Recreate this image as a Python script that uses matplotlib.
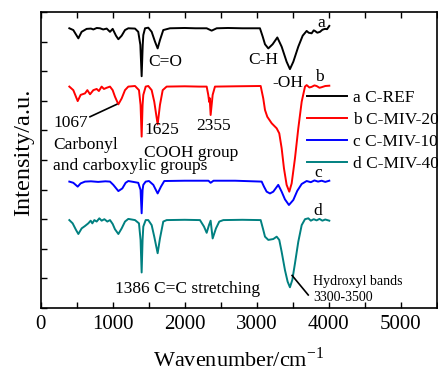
import matplotlib
matplotlib.use("Agg")
import matplotlib.pyplot as plt
from matplotlib.ticker import MultipleLocator

plt.rcParams['font.family'] = ['Liberation Serif', 'DejaVu Serif']
plt.rcParams['mathtext.fontset'] = 'custom'
plt.rcParams['mathtext.rm'] = 'Liberation Serif'

# ---- data ----
wn_a = [400, 455, 525, 570, 640, 700, 733, 780, 825, 870, 918, 964, 1001, 1047, 1080, 1126, 1172, 1218,
        1311, 1356, 1385, 1403, 1418, 1426, 1450, 1495, 1542, 1588, 1625, 1657, 1703, 1796, 2000, 2150,
        2305, 2374, 2444, 2600, 2800, 3044, 3082, 3114, 3160, 3220, 3285, 3345, 3414, 3460, 3507, 3576,
        3637, 3692, 3720, 3761, 3790, 3807, 3840, 3877, 3910, 3946, 3975, 4006]
int_a = [9.45, 9.39, 9.11, 9.33, 9.43, 9.44, 9.41, 9.46, 9.45, 9.41, 9.44, 9.33, 9.43, 9.20, 9.08, 9.20, 9.39, 9.45,
         9.44, 9.33, 8.89, 7.83, 8.89, 9.22, 9.45, 9.47, 9.33, 9.00, 8.77, 9.05, 9.39, 9.45, 9.46, 9.45,
         9.45, 9.37, 9.45, 9.46, 9.45, 9.45, 9.17, 8.91, 8.77, 8.91, 9.14, 8.83, 8.32, 8.07, 8.32, 8.83,
         9.20, 9.36, 9.30, 9.28, 9.38, 9.36, 9.30, 9.33, 9.40, 9.43, 9.42, 9.53]

wn_b = [400, 455, 516, 557, 617, 650, 687, 733, 779, 810, 848, 880, 918, 964, 1001, 1033, 1080, 1126, 1172,
        1218, 1311, 1366, 1388, 1403, 1416, 1426, 1459, 1495, 1542, 1578, 1625, 1657, 1695, 1750, 2000,
        2200, 2305, 2327, 2340, 2347, 2360, 2388, 2420, 2700, 3054, 3090, 3114, 3146, 3207, 3276, 3312,
        3345, 3377, 3414, 3451, 3484, 3530, 3576, 3623, 3669, 3692, 3730, 3760, 3800, 3830, 3870, 3900,
        3950, 4006]
int_b = [7.48, 7.36, 6.99, 7.20, 7.25, 7.36, 7.22, 7.36, 7.40, 7.33, 7.48, 7.40, 7.44, 7.48, 7.36, 7.14, 6.88, 7.08, 7.36,
         7.48, 7.50, 7.36, 6.86, 5.79, 6.86, 7.20, 7.48, 7.50, 7.36, 6.97, 6.20, 6.86, 7.36, 7.48, 7.49,
         7.48, 7.48, 7.20, 6.96, 7.09, 6.52, 7.20, 7.48, 7.49, 7.50, 7.08, 6.69, 6.46, 6.24, 6.07, 5.90,
         5.40, 4.72, 4.16, 3.93, 4.21, 5.06, 6.07, 6.97, 7.48, 7.53, 7.45, 7.47, 7.52, 7.50, 7.44, 7.46,
         7.50, 7.51]

wn_c = [400, 455, 516, 557, 617, 700, 800, 900, 964, 1010, 1080, 1135, 1181, 1218, 1356, 1388, 1403, 1416,
        1426, 1459, 1505, 1565, 1625, 1671, 1717, 2000, 2330, 2360, 2400, 2700, 3068, 3100, 3137, 3183,
        3229, 3298, 3345, 3391, 3446, 3507, 3562, 3623, 3692, 3750, 3800, 3850, 3900, 3950, 4006]
int_c = [4.27, 4.23, 4.10, 4.21, 4.27, 4.28, 4.26, 4.28, 4.27, 4.16, 3.95, 4.04, 4.23, 4.29, 4.23, 3.99, 3.20, 3.99,
         4.16, 4.27, 4.29, 4.16, 3.87, 4.10, 4.29, 4.30, 4.30, 4.23, 4.30, 4.30, 4.27, 4.10, 3.93, 3.87,
         3.93, 4.16, 3.93, 3.67, 3.48, 3.65, 3.96, 4.19, 4.29, 4.25, 4.31, 4.27, 4.30, 4.26, 4.30]

wn_d = [400, 446, 492, 525, 571, 617, 663, 696, 719, 747, 779, 816, 848, 886, 927, 964, 1001, 1033, 1080,
        1126, 1172, 1218, 1311, 1366, 1388, 1403, 1416, 1426, 1459, 1495, 1542, 1578, 1625, 1657, 1703,
        1750, 2000, 2212, 2268, 2305, 2337, 2360, 2388, 2434, 2480, 2536, 2800, 3054, 3090, 3114, 3160,
        3229, 3276, 3312, 3345, 3391, 3428, 3460, 3493, 3530, 3576, 3623, 3669, 3715, 3750, 3790, 3830,
        3870, 3910, 3950, 4006]
int_d = [2.97, 2.86, 2.64, 2.50, 2.69, 2.77, 2.86, 2.95, 2.86, 2.97, 2.92, 3.03, 2.95, 3.00, 2.92, 2.97, 2.84, 2.66, 2.50,
         2.69, 2.92, 3.01, 2.97, 2.86, 2.30, 1.20, 2.30, 2.75, 2.97, 2.97, 2.80, 2.41, 1.85, 2.35, 2.92,
         2.97, 2.98, 2.97, 2.75, 2.54, 2.80, 2.95, 2.35, 2.69, 2.92, 2.97, 2.98, 2.97, 2.64, 2.41, 2.30,
         2.33, 2.41, 2.30, 1.90, 1.28, 0.89, 0.70, 0.95, 1.51, 2.24, 2.80, 3.00, 3.03, 2.95, 3.00, 2.96,
         3.01, 2.95, 2.99, 2.95]

series_labels = ['a C-REF', 'b C-MIV-20', 'c C-MIV-10', 'd C-MIV-40']
series_colors = ['black', '#ff0000', '#0000ff', '#008080']

x_ticks = [0, 1000, 2000, 3000, 4000, 5000]

# ---- figure ----
fig = plt.figure(figsize=(4.39, 3.70), dpi=100)
ax = fig.add_axes([40.5 / 439, 1 - 308 / 370, (437 - 40.5) / 439, (308 - 12) / 370])

lines = []
for wn, val, lab, col in zip([wn_a, wn_b, wn_c, wn_d], [int_a, int_b, int_c, int_d],
                             series_labels, series_colors):
    ln, = ax.plot(wn, val, color=col, lw=1.4, label=lab)
    lines.append(ln)

ax.set_xlim(0, 5500)
ax.set_ylim(0, 10)
ax.set_xticks(x_ticks)
ax.set_xticklabels([str(t) for t in x_ticks])
ax.xaxis.set_minor_locator(MultipleLocator(500))
ax.yaxis.set_major_locator(MultipleLocator(1))
ax.set_yticklabels([])
ax.tick_params(axis='x', which='both', direction='in', length=4, width=1.0, top=True,
               labelsize=15, pad=5)
ax.tick_params(axis='y', which='both', direction='in', length=4, width=1.0, right=False)
for sp in ax.spines.values():
    sp.set_linewidth(1.2)

fig.text(238.7 / 439, 1 - 359 / 370, 'Wavenumber/cm$^{\\mathregular{-1}}$', ha='center', va='center',
         fontsize=16)
fig.text(24 / 439, 1 - 152 / 370, 'Intensity/a.u.', rotation=90, ha='center', va='center', fontsize=17.5)

leg = ax.legend(handles=lines, loc='upper left', bbox_to_anchor=(0.672, 0.738), frameon=False,
                fontsize=12.5, handlelength=2.3, handletextpad=0.35, labelspacing=0.34,
                borderaxespad=0.0, borderpad=0.0)

fs = 12.5
ax.text(3900, 9.64, 'a', fontsize=fs, ha='center', va='center')
ax.text(3867, 7.79, 'b', fontsize=fs, ha='center', va='center')
ax.text(3853, 4.55, 'c', fontsize=fs, ha='center', va='center')
ax.text(3840, 3.28, 'd', fontsize=fs, ha='center', va='center')
ax.text(1734, 8.32, 'C=O', fontsize=fs, ha='center', va='center')
ax.text(3093, 8.38, 'C-H', fontsize=fs, ha='center', va='center')
ax.text(3437, 7.60, '-OH', fontsize=fs, ha='center', va='center')
ax.text(420, 6.24, '1067', fontsize=fs, ha='center', va='center')
ax.plot([686, 1057], [6.46, 6.88], color='black', lw=1.2)
ax.text(1681, 6.01, '1625', fontsize=fs, ha='center', va='center')
ax.text(2400, 6.15, '2355', fontsize=fs, ha='center', va='center')
ax.text(178, 5.51, 'Carbonyl', fontsize=fs, ha='left', va='center')
ax.text(178, 4.79, 'and carboxylic groups', fontsize=fs, ha='left', va='center')
ax.text(1440, 5.25, 'COOH group', fontsize=fs, ha='left', va='center')
ax.text(2039, 0.63, '1386 C=C stretching', fontsize=fs, ha='center', va='center')
ax.text(3784, 0.89, 'Hydroxyl bands', fontsize=10, ha='left', va='center')
ax.text(3784, 0.36, '3300-3500', fontsize=10, ha='left', va='center')
ax.plot([3490, 3714], [1.10, 0.44], color='black', lw=1.2)

fig.savefig('out.png', dpi=100)
